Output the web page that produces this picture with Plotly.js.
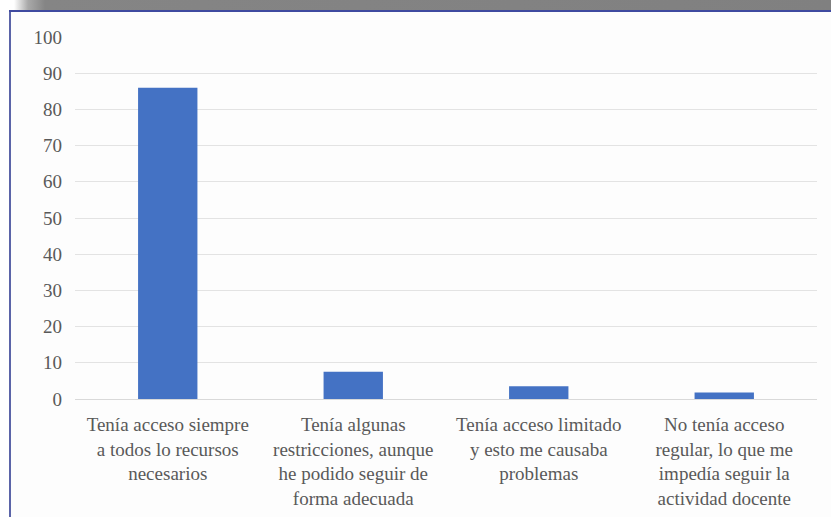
<!DOCTYPE html>
<html>
<head>
<meta charset="utf-8">
<script src="https://cdn.plot.ly/plotly-3.0.1.min.js"></script>
<style>
  html, body { margin: 0; padding: 0; background: #ffffff; }
  #wrap { position: relative; width: 831px; height: 517px; overflow: hidden; background: #fdfdfd; }
  #chart { position: absolute; left: 0; top: 0; width: 831px; height: 517px; }
  #chart text { font-family: 'Liberation Serif', 'DejaVu Serif', serif !important; }
  .deco { position: absolute; pointer-events: none; z-index: 10; }
  #band { left: 0; top: 0; width: 831px; height: 10px;
          background: linear-gradient(to right, #ffffff 0px, #ffffff 14px, #a9a9a9 28px, #858585 45px, #808080 100%); }
  #leftwhite { left: 0; top: 0; width: 9px; height: 517px; background: #ffffff; }
  #lborder { left: 9px; top: 10px; width: 2px; height: 507px; background: #5b64a8; }
  #tborder { left: 9px; top: 10px; width: 822px; height: 2px; background: #3f4aa0; }
</style>
</head>
<body>
<div id="wrap">
  <div id="chart"></div>
  <div class="deco" id="band"></div>
  <div class="deco" id="leftwhite"></div>
  <div class="deco" id="lborder"></div>
  <div class="deco" id="tborder"></div>
</div>
<script>
const categories = [
  "Tenía acceso siempre<br>a todos lo recursos<br>necesarios",
  "Tenía algunas<br>restricciones, aunque<br>he podido seguir de<br>forma adecuada",
  "Tenía acceso limitado<br>y esto me causaba<br>problemas",
  "No tenía acceso<br>regular, lo que me<br>impedía seguir la<br>actividad docente"
];
const values = [86, 7.5, 3.5, 1.8];
const yTicks = [0, 10, 20, 30, 40, 50, 60, 70, 80, 90, 100];

const fontFamily = "Liberation Serif";

Plotly.newPlot("chart", [{
  type: "bar",
  x: categories,
  y: values,
  marker: { color: "#4472c4" },
  hoverinfo: "none"
}], {
  width: 831, height: 517,
  margin: { l: 75, r: 14, t: 37, b: 118, pad: 0 },
  paper_bgcolor: "#fdfdfd",
  plot_bgcolor: "#fdfdfd",
  bargap: 0.68,
  font: { family: fontFamily, size: 19, color: "#595959" },
  showlegend: false,
  xaxis: {
    type: "category",
    showgrid: false,
    showline: true,
    linecolor: "#d9d9d9",
    linewidth: 1,
    ticks: "",
    tickfont: { family: fontFamily, size: 19, color: "#595959" },
    ticklabelstandoff: 8
  },
  yaxis: {
    range: [0, 100],
    tickvals: yTicks,
    ticktext: yTicks.map(String),
    showgrid: true,
    gridcolor: "#e3e3e3",
    gridwidth: 1,
    zeroline: false,
    showline: false,
    ticks: "",
    tickfont: { family: fontFamily, size: 19, color: "#595959" },
    ticklabelstandoff: 12
  }
}, { staticPlot: true });
</script>
</body>
</html>
